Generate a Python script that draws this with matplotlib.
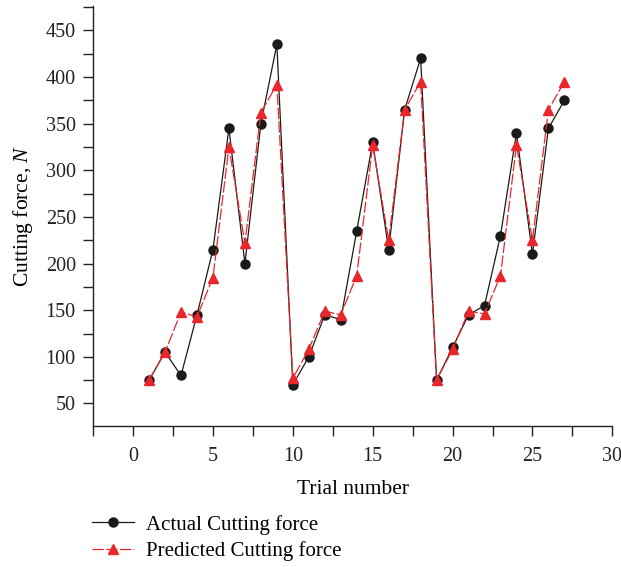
import matplotlib
matplotlib.use("Agg")
import matplotlib.pyplot as plt
from matplotlib.ticker import MultipleLocator

plt.rcParams["font.family"] = ["Liberation Serif", "DejaVu Serif"]
plt.rcParams["mathtext.fontset"] = "custom"
plt.rcParams["mathtext.it"] = "Liberation Serif:italic"

trials = list(range(1, 28))
actual = [75, 105, 80, 145, 215, 345, 200, 350, 435, 70, 100, 145, 140, 235, 330,
          215, 365, 420, 75, 110, 145, 155, 230, 340, 210, 345, 375]
predicted = [75, 105, 148, 143, 185, 325, 222, 362, 392, 77, 108, 149, 145, 187, 327,
             225, 365, 395, 75, 108, 149, 146, 187, 327, 225, 365, 395]


def main():
  fig = plt.figure(figsize=(6.21, 5.67), dpi=100)
  ax = fig.add_axes([0.150, 0.249, 0.836, 0.740])

  ax.plot(trials, actual, color="#1a1a1a", lw=0.9, marker="o", ms=6.5,
          label="Actual Cutting force")
  ax.plot(trials, predicted, color="#e8262b", lw=0.9, ls=(0, (9, 2)), marker="^", ms=6.5,
          label="Predicted Cutting force")

  ax.set_xlim(-2.5, 30)
  ax.set_ylim(26, 476)
  ax.xaxis.set_major_locator(MultipleLocator(5))
  ax.xaxis.set_minor_locator(MultipleLocator(2.5))
  ax.set_yticks(range(50, 451, 50))
  ax.yaxis.set_minor_locator(MultipleLocator(25))

  for s in ["top", "right"]:
    ax.spines[s].set_visible(False)
  for s in ["left", "bottom"]:
    ax.spines[s].set_linewidth(1.0)
    ax.spines[s].set_color("#222222")
  ax.tick_params(which="major", direction="out", length=7.5, width=1.0, labelsize=14.5,
                 colors="#222222", pad=5)
  ax.tick_params(which="minor", direction="out", length=7.5, width=1.0, colors="#222222")
  ax.tick_params(axis="x", pad=8)

  ax.set_xlabel("Trial number", fontsize=15.5, labelpad=10)
  ax.set_ylabel(r"Cutting force, $\mathit{N}$", fontsize=15.5, labelpad=8)

  fig.legend(loc="upper left", bbox_to_anchor=(0.118, 0.125), frameon=False,
             fontsize=15, handlelength=2.0, handletextpad=0.6, labelspacing=0.3)

  fig.savefig("out.png", dpi=100)


if __name__ == "__main__":
  main()
